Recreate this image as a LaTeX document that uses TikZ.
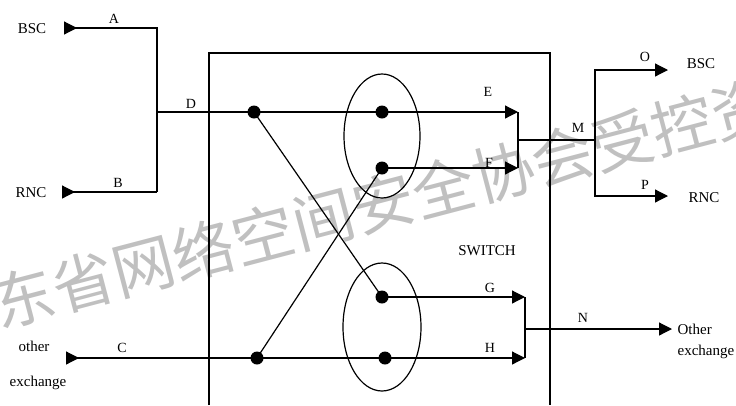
\documentclass[tikz,border=0pt]{standalone}
\usepackage{fontspec}
\setmainfont{Liberation Serif}
\newfontfamily\cjkwm{Noto Sans CJK SC}
\usetikzlibrary{arrows.meta,shapes.geometric}
\definecolor{wm}{RGB}{192,192,192}
\begin{document}
\begin{tikzpicture}[x=1pt,y=-1pt,line width=1.2pt,
  lbl/.style={inner sep=0pt,font=\fontsize{14}{16}\selectfont},
  word/.style={inner sep=0pt,font=\fontsize{15}{17}\selectfont},
  arr/.style={-{Triangle[length=13pt,width=13pt]}},
  inarr/.style={{Triangle[length=13pt,width=13pt,reversed]}-},
  dotn/.style={circle,fill=black,minimum size=13pt,inner sep=0pt},
  ell/.style={draw,ellipse,inner sep=0pt}]
\useasboundingbox (0,0) rectangle (736,405);
\clip (0,0) rectangle (736,405);
% watermark
\node[text=wm,inner sep=0pt,rotate=14.7,font=\cjkwm\fontsize{62}{62}\selectfont] (wmark) at (383,203) {东省网络空间安全协会受控资};
% switch box
\coordinate (boxBL) at (209,405);
\coordinate (boxTL) at (209,53);
\coordinate (boxTR) at (550,53);
\coordinate (boxBR) at (550,405);
\draw (boxBL) -- (boxTL) -- (boxTR) -- (boxBR);
\node[word] (sw) at (487,251) {SWITCH};
% left inputs
\coordinate (bscIn) at (64,28);
\coordinate (aCorner) at (157,28);
\coordinate (rncIn) at (62,192);
\coordinate (bCorner) at (157,192);
\coordinate (dJ) at (157,112);
\coordinate (cIn) at (66,358);
\node[word] (bscL) at (32,29) {BSC};
\node[word] (rncL) at (31,193) {RNC};
\node[word] (othL) at (34,346) {other};
\node[word] (excL) at (38,383) {exchange};
\node[lbl] (tA) at (114,19) {A};
\node[lbl] (tB) at (118,183) {B};
\node[lbl] (tD) at (191,104) {D};
\node[lbl] (tC) at (122,348) {C};
% dots and ellipses
\node[dotn] (dot1) at (254,112) {};
\node[dotn] (dot2) at (257,358) {};
\node[ell,minimum width=76pt,minimum height=124pt] (ellU) at (382,136) {};
\node[ell,minimum width=78pt,minimum height=128pt] (ellL) at (382,327) {};
\node[dotn] (eDot) at (382,112) {};
\node[dotn] (fDot) at (382,168) {};
\node[dotn] (gDot) at (382,297) {};
\node[dotn] (hDot) at (385,358) {};
% left wiring
\draw[inarr] (bscIn) -- (aCorner) -- (bCorner);
\draw[inarr] (rncIn) -- (bCorner);
\draw (dJ) -- (dot1.center) -- (eDot.center);
\draw[inarr] (cIn) -- (dot2.center) -- (hDot.center);
\draw (dot1.center) -- (gDot.center);
\draw (dot2.center) -- (fDot.center);
% outputs upper
\coordinate (eTip) at (518,112);
\coordinate (fTip) at (518,168);
\coordinate (mJ) at (518,140);
\coordinate (mSplit) at (595,140);
\coordinate (oCorner) at (595,70);
\coordinate (oTip) at (668,70);
\coordinate (pCorner) at (595,196);
\coordinate (pTip) at (668,196);
\draw[arr] (eDot.center) -- (eTip);
\draw[arr] (fDot.center) -- (fTip);
\draw (eTip) -- (fTip);
\draw (mJ) -- (mSplit);
\draw[arr] (pCorner) -- (oCorner) -- (oTip);
\draw[arr] (oCorner) -- (pCorner) -- (pTip);
\node[lbl] (tE) at (488,92) {E};
\node[lbl] (tF) at (489,163) {F};
\node[lbl] (tM) at (578,128) {M};
\node[lbl] (tO) at (645,57) {O};
\node[lbl] (tP) at (645,185) {P};
\node[word] (bscR) at (701,64) {BSC};
\node[word] (rncR) at (704,198) {RNC};
% outputs lower
\coordinate (gTip) at (525,297);
\coordinate (hTip) at (525,358);
\coordinate (nJ) at (525,329);
\coordinate (nTip) at (672,329);
\draw[arr] (gDot.center) -- (gTip);
\draw[arr] (hDot.center) -- (hTip);
\draw (gTip) -- (hTip);
\draw[arr] (nJ) -- (nTip);
\node[lbl] (tG) at (490,288) {G};
\node[lbl] (tH) at (490,348) {H};
\node[lbl] (tN) at (583,318) {N};
\node[word,anchor=west] (othR) at (677,329) {Other};
\node[word,anchor=west] (excR) at (677,352) {exchange};
\end{tikzpicture}
\end{document}
